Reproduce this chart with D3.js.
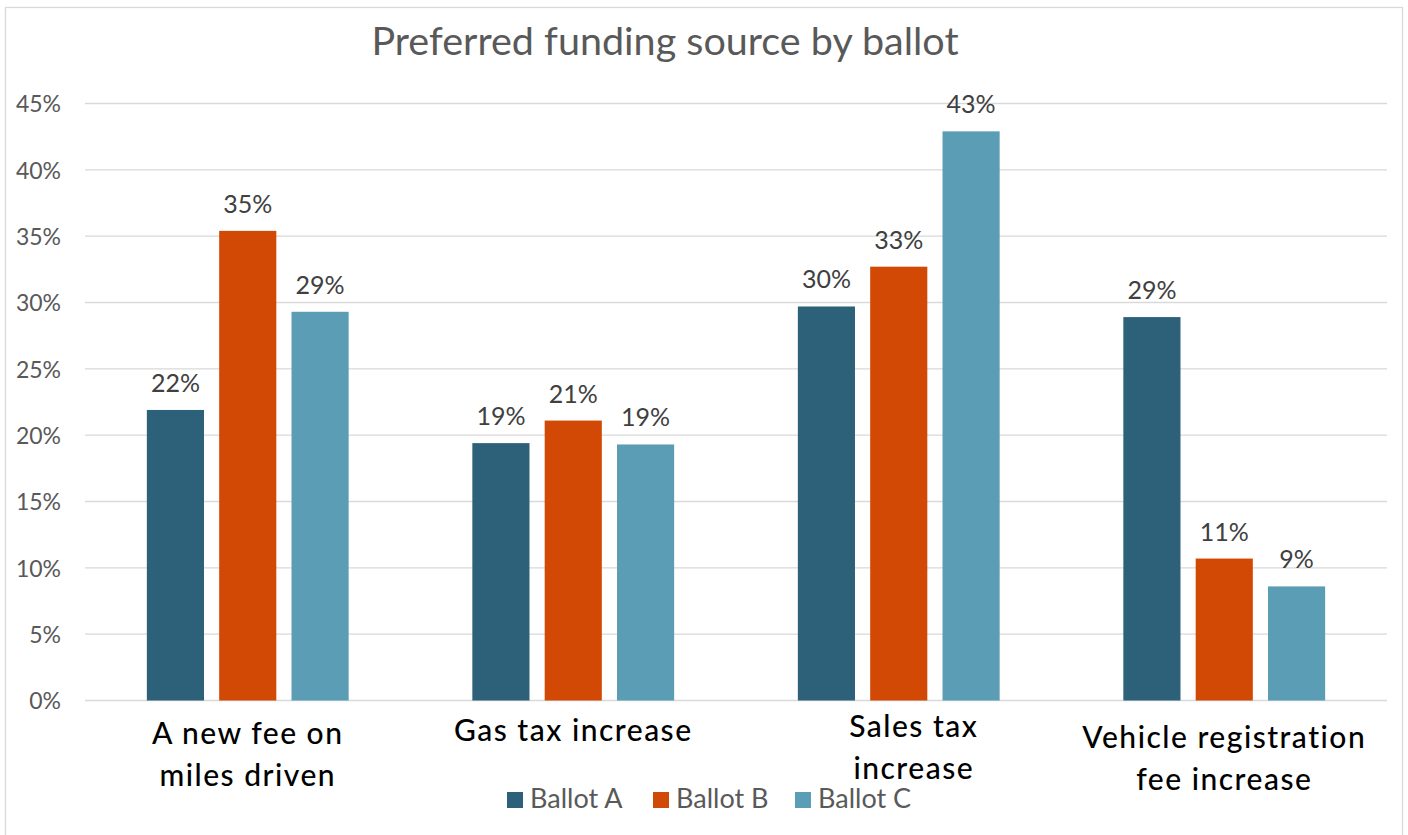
<!DOCTYPE html>
<html>
<head>
<meta charset="utf-8">
<script src="https://cdn.jsdelivr.net/npm/d3@7"></script>
<style>
  html, body { margin: 0; padding: 0; background: #fff; }
  svg { display: block; }
  text { font-family: Lato, "Open Sans", sans-serif; }
</style>
</head>
<body>
<svg id="chart" width="1408" height="835"></svg>
<script>
const title = "Preferred funding source by ballot";
const categories = ["A new fee on miles driven", "Gas tax increase", "Sales tax increase", "Vehicle registration fee increase"];
const categoryLines = [["A new fee on", "miles driven"], ["Gas tax increase"], ["Sales tax", "increase"], ["Vehicle registration", "fee increase"]];
const seriesNames = ["Ballot A", "Ballot B", "Ballot C"];
const ballotA = [0.219, 0.194, 0.297, 0.289];
const ballotB = [0.354, 0.211, 0.327, 0.107];
const ballotC = [0.293, 0.193, 0.429, 0.086];
const seriesColors = ["#2c6179", "#d14905", "#5b9db5"];
const yTicks = [0, 0.05, 0.10, 0.15, 0.20, 0.25, 0.30, 0.35, 0.40, 0.45];

// layout nudges for the wrapped category labels (as placed in the original)
const labelNudge = [{dx: 0, dy: 0}, {dx: 0, dy: -3}, {dx: 15, dy: -7}, {dx: 0, dy: 4}];

const seriesValues = [ballotA, ballotB, ballotC];
const svg = d3.select("#chart");

// outer frame
svg.append("rect").attr("x", 5.5).attr("y", 7.5).attr("width", 1397).attr("height", 840)
  .attr("fill", "#fff").attr("stroke", "#d9d9d9").attr("stroke-width", 1.3);

const left = 85, right = 1387;
const y = d3.scaleLinear().domain([0, 0.45]).range([700.5, 103.5]);
const x0 = d3.scaleBand().domain(categories).range([left, right]).paddingInner(0.38).paddingOuter(0.19);
const x1 = d3.scaleBand().domain(seriesNames).range([0, x0.bandwidth()]).paddingInner(0.21).paddingOuter(0);

// gridlines
svg.append("g").selectAll("line").data(yTicks).join("line")
  .attr("x1", left).attr("x2", right)
  .attr("y1", d => y(d)).attr("y2", d => y(d))
  .attr("stroke", "#d9d9d9").attr("stroke-width", 1.3);

// y axis labels
const yAxis = d3.axisLeft(y).tickValues(yTicks).tickFormat(d3.format(".0%")).tickSize(0).tickPadding(0);
const yg = svg.append("g").attr("transform", "translate(61,0)").call(yAxis);
yg.select(".domain").remove();
yg.selectAll("text").attr("font-family", "Lato").attr("font-size", 23).attr("fill", "#595959").attr("dy", "0.36em");

// bars
const groups = svg.append("g").selectAll("g").data(categories).join("g")
  .attr("transform", d => `translate(${x0(d)},0)`);

groups.selectAll("rect").data((c, i) => seriesNames.map((s, j) => ({ s, v: seriesValues[j][i], j })))
  .join("rect")
  .attr("x", d => x1(d.s)).attr("width", x1.bandwidth())
  .attr("y", d => y(d.v)).attr("height", d => y(0) - y(d.v))
  .attr("fill", d => seriesColors[d.j]);

groups.selectAll("text.lbl").data((c, i) => seriesNames.map((s, j) => ({ s, v: seriesValues[j][i], j })))
  .join("text").attr("class", "lbl")
  .attr("x", d => x1(d.s) + x1.bandwidth() / 2)
  .attr("y", d => y(d.v) - 18)
  .attr("text-anchor", "middle")
  .attr("font-size", 25).attr("fill", "#404040")
  .text(d => d3.format(".0%")(d.v));

// category labels
svg.append("g").selectAll("text").data(categories).join("text")
  .attr("x", (d, i) => x0(d) + x0.bandwidth() / 2 + labelNudge[i].dx)
  .attr("y", (d, i) => 744 + labelNudge[i].dy)
  .attr("text-anchor", "middle")
  .attr("font-size", 30).attr("font-weight", 500).attr("fill", "#000")
  .attr("letter-spacing", 1.5)
  .selectAll("tspan").data((d, i) => categoryLines[i]).join("tspan")
  .attr("x", function() { return this.parentNode.getAttribute("x"); })
  .attr("dy", (d, k) => k === 0 ? 0 : 42)
  .text(d => d);

// title
svg.append("text").attr("x", 665).attr("y", 55).attr("text-anchor", "middle")
  .attr("font-size", 39.5).attr("fill", "#595959").text(title);

// legend
const legendX = [507, 653, 795];
const lg = svg.append("g").selectAll("g").data(seriesNames).join("g")
  .attr("transform", (d, i) => `translate(${legendX[i]},792)`);
lg.append("rect").attr("width", 16).attr("height", 16).attr("fill", (d, i) => seriesColors[i]);
lg.append("text").attr("x", 23).attr("y", 16).attr("font-size", 27).attr("fill", "#595959").text(d => d);
</script>
</body>
</html>
